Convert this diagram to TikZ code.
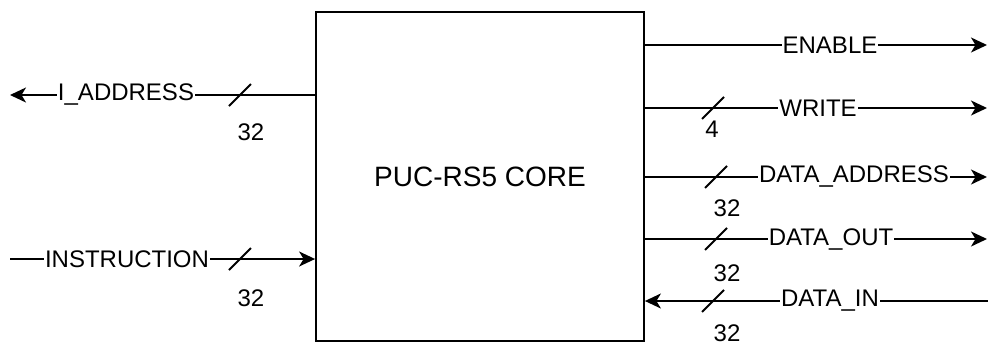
\documentclass[tikz,border=0pt]{standalone}
\usepackage{fontspec}
\setmainfont{Liberation Sans}
\usetikzlibrary{arrows.meta}
\tikzstyle{core}=[draw, line width=1.8pt, minimum width=328pt, minimum height=329pt, inner sep=0, font=\fontsize{28}{32}\selectfont]
\tikzstyle{sig}=[line width=1.8pt]
\tikzstyle{arr}=[-{Stealth[length=16pt, width=15pt, inset=4.5pt]}]
\tikzstyle{lbl}=[fill=white, inner sep=1pt, font=\fontsize{24}{28}\selectfont]
\tikzstyle{wd}=[inner sep=0, font=\fontsize{24}{28}\selectfont]

\begin{document}
\begin{tikzpicture}[x=1pt, y=-1pt]
\useasboundingbox (0,0) rectangle (988,346);
\node[core] (cpu) at (480,176.5) {PUC-RS5 CORE};

% free ends of the wires
\coordinate (ia) at (10,95);
\coordinate (ins) at (10,259);
\coordinate (en) at (987,45);
\coordinate (wr) at (987,108);
\coordinate (da) at (987,177);
\coordinate (dout) at (987,239);
\coordinate (din) at (988,301);

% left side
\draw[sig, arr] (cpu.west |- ia) -- (ia);
\draw[sig, arr] (ins) -- (cpu.west |- ins);
\node[lbl] (lia) at (126,95) {I\_ADDRESS};
\node[lbl] (lins) at (127,259) {INSTRUCTION};

% right side
\foreach \p in {en, wr, da, dout}
	{\draw[sig, arr] (cpu.east |- \p) -- (\p);}
\draw[sig, arr] (din) -- (cpu.east |- din);
\foreach \n/\x/\y/\t in {len/830/45/ENABLE, lwr/818/108/WRITE, lda/854/177/DATA\_ADDRESS, ldout/831/239/DATA\_OUT, ldin/830/301/DATA\_IN}
	{\node[lbl] (\n) at (\x,\y) {\t};}

% bus widths
\foreach \x/\y/\w/\wx/\wy in {240/95/32/251/132, 240/259/32/251/298, 713/108/4/712/129, 716/177/32/727/208, 716/239/32/727/273, 713/301/32/727/333}
	{\draw[sig] (\x-11,\y+11) -- (\x+11,\y-11);
	\node[wd] at (\wx,\wy) {\w};}
\end{tikzpicture}
\end{document}
